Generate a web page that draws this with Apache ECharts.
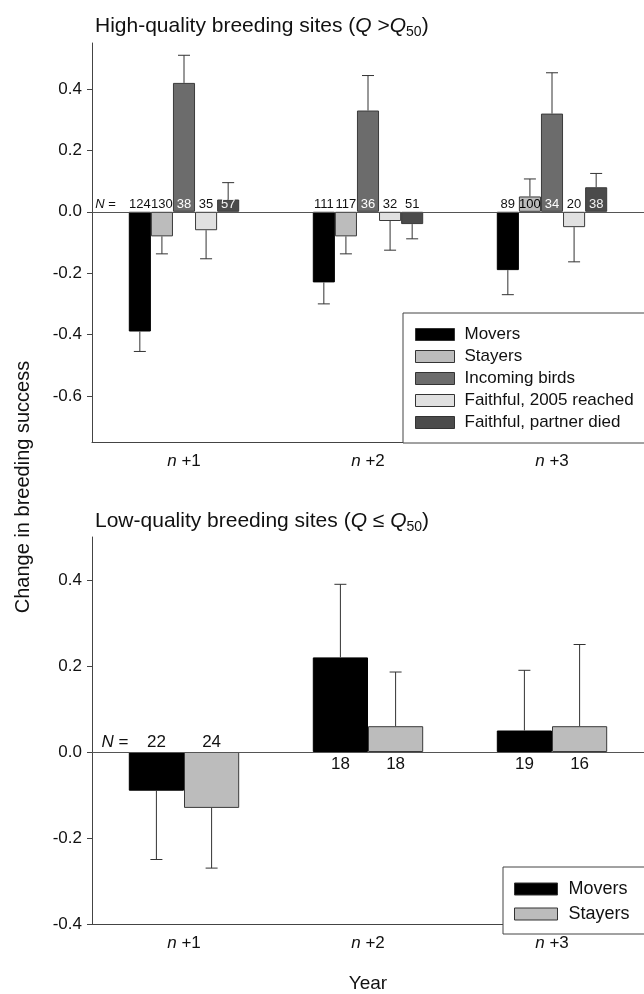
<!DOCTYPE html>
<html>
<head>
<meta charset="utf-8">
<script src="https://cdn.jsdelivr.net/npm/echarts@6/dist/echarts.min.js"></script>
<style>
  html, body { margin: 0; padding: 0; background: #fff; }
  #main { width: 644px; height: 994px; }
</style>
</head>
<body>
<div id="main"></div>
<script>
// categories and tick labels
var categories = ['n +1', 'n +2', 'n +3'];
var topTicks = [-0.6, -0.4, -0.2, 0, 0.2, 0.4];
var lowTicks = [-0.4, -0.2, 0, 0.2, 0.4];

// high-quality sites: means, standard errors, sample sizes
var topNames = ['Movers', 'Stayers', 'Incoming birds', 'Faithful, 2005 reached', 'Faithful, partner died'];
var topMovers = [-0.39, -0.23, -0.19];
var topStayers = [-0.08, -0.08, 0.05];
var topIncoming = [0.42, 0.33, 0.32];
var topFaithful = [-0.06, -0.03, -0.05];
var topPartner = [0.04, -0.04, 0.08];
var topMoversErr = [0.065, 0.07, 0.08];
var topStayersErr = [0.057, 0.057, 0.057];
var topIncomingErr = [0.09, 0.114, 0.133];
var topFaithfulErr = [0.093, 0.095, 0.113];
var topPartnerErr = [0.055, 0.048, 0.045];
var topMoversN = [124, 111, 89];
var topStayersN = [130, 117, 100];
var topIncomingN = [38, 36, 34];
var topFaithfulN = [35, 32, 20];
var topPartnerN = [57, 51, 38];

// low-quality sites
var lowNames = ['Movers', 'Stayers'];
var lowMovers = [-0.09, 0.22, 0.05];
var lowStayers = [-0.13, 0.06, 0.06];
var lowMoversErr = [0.16, 0.17, 0.14];
var lowStayersErr = [0.14, 0.126, 0.19];
var lowMoversN = [22, 18, 19];
var lowStayersN = [24, 18, 16];

var FONT = 'Liberation Sans, Arial, sans-serif';
var fills = ['#000000', '#bcbcbc', '#6c6c6c', '#e0e0e0', '#4b4b4b'];
var insideText = ['#000', '#000', '#fff', '#000', '#f2f2f2'];

function barSeries(name, data, k, grid, withZero) {
  var s = {
    type: 'bar', name: name, data: data,
    xAxisIndex: grid, yAxisIndex: grid,
    barGap: '0%', barCategoryGap: '40%', silent: true,
    itemStyle: { color: fills[k], borderColor: k === 0 ? '#000' : '#3a3a3a', borderWidth: 1 }
  };
  if (withZero) {
    s.markLine = {
      silent: true, symbol: 'none', animation: false,
      label: { show: false },
      lineStyle: { color: '#555', width: 1, type: 'solid' },
      data: [{ yAxis: 0 }]
    };
  }
  return s;
}

// error bars plus the N labels, placed on the bar through the axes
function errSeries(means, errs, ns, k, count, grid, opt) {
  return {
    type: 'custom', name: 'err' + grid + k, silent: true,
    xAxisIndex: grid, yAxisIndex: grid, z: 5,
    data: means.map(function (m, i) { return [i, m, errs[i], ns[i]]; }),
    renderItem: function (params, api) {
      var i = api.value(0), m = api.value(1), e = api.value(2), n = api.value(3);
      var base = api.coord([i, 0]);
      var band = api.size([1, 0])[0];
      var w = band * 0.6 / count;
      var x = base[0] - band * 0.3 + w * (k + 0.5);
      var end = m + (m < 0 ? -e : e);
      var p1 = api.coord([i, m]), p2 = api.coord([i, end]);
      var line = { stroke: '#333', lineWidth: 1 };
      var below = opt.opposite && m > 0;
      var inside = !below && m > 0;
      var ty = below ? base[1] + 4 : base[1] - 1;
      var kids = [
        { type: 'line', shape: { x1: x, y1: p1[1], x2: x, y2: p2[1] }, style: line },
        { type: 'line', shape: { x1: x - 6, y1: p2[1], x2: x + 6, y2: p2[1] }, style: line },
        { type: 'text', style: {
          text: String(n), x: x, y: ty, align: 'center',
          verticalAlign: below ? 'top' : 'bottom',
          fontSize: opt.fontSize, fontFamily: FONT,
          fill: inside ? opt.inside[k] : '#111'
        } }
      ];
      if (k === 0 && i === 0) {
        kids.push({ type: 'text', style: {
          text: '{i|N} =', x: x - opt.prefixGap, y: ty, align: 'right', verticalAlign: 'bottom',
          fontSize: opt.fontSize, fontFamily: FONT, fill: '#111',
          rich: { i: { fontStyle: 'italic', fontSize: opt.fontSize, fontFamily: FONT, fill: '#111' } }
        } });
      }
      return { type: 'group', children: kids };
    }
  };
}

function valueAxis(grid, min, max, ticks) {
  return {
    type: 'value', gridIndex: grid, min: min, max: max,
    axisLine: { show: true, lineStyle: { color: '#444', width: 1 } },
    axisTick: { show: true, length: 5, customValues: ticks, lineStyle: { color: '#444' } },
    axisLabel: {
      customValues: ticks, margin: 10, color: '#111', fontSize: 17, fontFamily: FONT,
      formatter: function (v) { return v.toFixed(1); }
    },
    splitLine: { show: false }
  };
}

function catAxis(grid, extra) {
  var a = {
    type: 'category', gridIndex: grid, data: categories,
    axisLine: { onZero: false, lineStyle: { color: '#444', width: 1 } },
    axisTick: { alignWithLabel: true, length: 5, lineStyle: { color: '#444' } },
    axisLabel: {
      margin: 11, color: '#111', fontSize: 17, fontFamily: FONT,
      formatter: function (v) { return '{i|n}' + v.slice(1); },
      rich: { i: { fontStyle: 'italic', fontSize: 17, fontFamily: FONT, color: '#111' } }
    }
  };
  for (var key in extra) a[key] = extra[key];
  return a;
}

function titleRich() {
  return {
    a: { fontSize: 21, fontWeight: 'normal', fontFamily: FONT, color: '#111', lineHeight: 26 },
    i: { fontSize: 21, fontWeight: 'normal', fontFamily: FONT, color: '#111', fontStyle: 'italic', lineHeight: 26 },
    s: { fontSize: 14, fontWeight: 'normal', fontFamily: FONT, color: '#111', lineHeight: 14, verticalAlign: 'bottom' }
  };
}

var topOpt = { fontSize: 13, inside: insideText, prefixGap: 24, opposite: false };
var lowOpt = { fontSize: 17, inside: insideText, prefixGap: 28, opposite: true };

var topMeans = [topMovers, topStayers, topIncoming, topFaithful, topPartner];
var topErrs = [topMoversErr, topStayersErr, topIncomingErr, topFaithfulErr, topPartnerErr];
var topNs = [topMoversN, topStayersN, topIncomingN, topFaithfulN, topPartnerN];
var lowMeans = [lowMovers, lowStayers];
var lowErrs = [lowMoversErr, lowStayersErr];
var lowNs = [lowMoversN, lowStayersN];

var series = [];
topMeans.forEach(function (d, k) { series.push(barSeries(topNames[k], d, k, 0, k === 0)); });
lowMeans.forEach(function (d, k) { series.push(barSeries(lowNames[k], d, k, 1, k === 0)); });
topMeans.forEach(function (d, k) { series.push(errSeries(d, topErrs[k], topNs[k], k, 5, 0, topOpt)); });
lowMeans.forEach(function (d, k) { series.push(errSeries(d, lowErrs[k], lowNs[k], k, 2, 1, lowOpt)); });

function legendBox(names, left, top, w, h, pad, gap, fs, textPad) {
  return {
    data: names, orient: 'vertical', left: left, top: top, icon: 'rect',
    itemWidth: w, itemHeight: h, itemGap: gap, padding: pad, selectedMode: false,
    borderColor: '#444', borderWidth: 1, backgroundColor: '#fff',
    itemStyle: { borderColor: '#333', borderWidth: 1 },
    textStyle: { fontSize: fs, lineHeight: fs, fontFamily: FONT, color: '#111', padding: [0, 0, 0, textPad] }
  };
}

var chart = echarts.init(document.getElementById('main'));
chart.setOption({
  animation: false,
  backgroundColor: '#fff',
  title: [
    { left: 90, top: 8, text: '{a|High-quality breeding sites (}{i|Q}{a| >}{i|Q}{s|50}{a|)}', textStyle: { fontWeight: 'normal', rich: titleRich() } },
    { left: 90, top: 503, text: '{a|Low-quality breeding sites (}{i|Q}{a| ≤ }{i|Q}{s|50}{a|)}', textStyle: { fontWeight: 'normal', rich: titleRich() } }
  ],
  grid: [
    { left: 92, top: 43, width: 555, height: 399 },
    { left: 92, top: 537, width: 555, height: 397 }
  ],
  xAxis: [
    catAxis(0, {}),
    catAxis(1, {
      name: 'Year', nameLocation: 'middle', nameGap: 50,
      nameTextStyle: { fontSize: 19, fontFamily: FONT, color: '#111' }
    })
  ],
  yAxis: [
    valueAxis(0, -0.75, 0.55, topTicks),
    valueAxis(1, -0.4, 0.5, lowTicks)
  ],
  legend: [
    legendBox(topNames, 403, 313, 39, 12, [13, 40, 12, 12], 5, 17, 5),
    legendBox(lowNames, 503, 867, 43, 12, [13, 40, 11, 11], 7, 18, 6)
  ],
  graphic: [{
    type: 'text', x: 23, y: 487, rotation: Math.PI / 2,
    style: { text: 'Change in breeding success', align: 'center', verticalAlign: 'middle',
      fontSize: 20, fontFamily: FONT, fill: '#111' }
  }],
  series: series
});
</script>
</body>
</html>
